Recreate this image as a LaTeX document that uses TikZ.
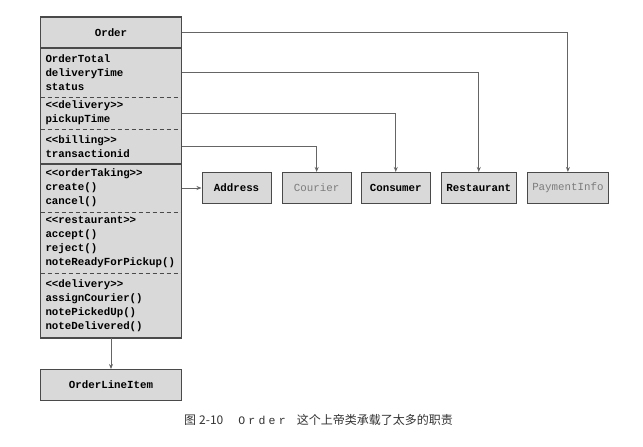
\documentclass[tikz,border=0pt]{standalone}
\usepackage{fontspec}
\newfontfamily\umlfont{Liberation Mono}
\newfontfamily\cjk{Noto Sans CJK SC}
\usetikzlibrary{arrows.meta,positioning}
\definecolor{umlFill}{HTML}{D9D9D9}
\definecolor{umlLine}{HTML}{4A4A4A}
\definecolor{umlFaded}{HTML}{7C7C7C}
\newcommand{\stereo}[1]{<{}<#1>{}>}

\begin{document}
\begin{tikzpicture}[x=1pt, y=-1pt,
    every node/.style={font=\umlfont\bfseries\fontsize{10.8}{14}\selectfont},
    header/.style={fill=umlFill, minimum width=141pt, minimum height=31pt,
                   inner sep=0pt, outer sep=0pt},
    section/.style={fill=umlFill, text width=131pt, inner xsep=5pt,
                    inner ysep=2pt, align=left, outer sep=0pt},
    refbox/.style={draw=umlLine, line width=1.1pt, fill=umlFill,
                   minimum width=69pt, minimum height=31pt, inner xsep=5pt},
    faded/.style={text=umlFaded, font=\umlfont\fontsize{10.8}{14}\selectfont},
    border/.style={draw=umlLine, line width=1.1pt},
    divider/.style={draw=umlLine, line width=0.9pt, dash pattern=on 4pt off 3pt},
    link/.style={draw=umlLine!85, line width=0.9pt,
                 -{Stealth[length=5pt, width=4pt]}},
  ]
  \useasboundingbox (0,0) rectangle (643,447);

  % The god class
  \node[header, anchor=north west] (order) at (40.5,17) {Order};
  \node[section, minimum height=49pt, below=0pt of order] (orderAttrs)
    {OrderTotal\\deliveryTime\\status};
  \node[section, minimum height=32pt, below=0pt of orderAttrs] (orderDelivery)
    {\stereo{delivery}\\pickupTime};
  \node[section, minimum height=35pt, below=0pt of orderDelivery] (orderBilling)
    {\stereo{billing}\\transactionid};
  \node[section, minimum height=48pt, below=0pt of orderBilling] (orderTaking)
    {\stereo{orderTaking}\\create()\\cancel()};
  \node[section, minimum height=61pt, below=0pt of orderTaking] (orderRestaurant)
    {\stereo{restaurant}\\accept()\\reject()\\noteReadyForPickup()};
  \node[section, minimum height=65pt, below=0pt of orderRestaurant] (orderDeliveryOps)
    {\stereo{delivery}\\assignCourier()\\notePickedUp()\\noteDelivered()};

  % Outline and compartment lines
  \draw[border] (order.north west) rectangle (orderDeliveryOps.south east);
  \draw[border] (order.south west) -- (order.south east);
  \draw[border] (orderBilling.south west) -- (orderBilling.south east);
  \draw[divider] (orderAttrs.south west) -- (orderAttrs.south east);
  \draw[divider] (orderDelivery.south west) -- (orderDelivery.south east);
  \draw[divider] (orderTaking.south west) -- (orderTaking.south east);
  \draw[divider] (orderRestaurant.south west) -- (orderRestaurant.south east);

  % Referenced classes
  \node[refbox, anchor=west] (address) at (201.5,188) {Address};
  \node[refbox, faded, right=10pt of address] (courier) {Courier};
  \node[refbox, right=9pt of courier] (consumer) {Consumer};
  \node[refbox, right=10pt of consumer] (restaurant) {Restaurant};
  \node[refbox, faded, right=10pt of restaurant] (payment) {PaymentInfo};
  \node[refbox, minimum width=141pt, below=31pt of orderDeliveryOps] (lineItem)
    {OrderLineItem};

  % Associations
  \draw[link] (order.east) -| (payment.north);
  \draw[link] (orderAttrs.east) -| (restaurant.north);
  \draw[link] (orderDelivery.east) -| (consumer.north);
  \draw[link] (orderBilling.east) -| (courier.north);
  \draw[link] (orderTaking.east) -- (address.west);
  \draw[link] (orderDeliveryOps.south) -- (lineItem.north);

  % Caption
  \node[font=\cjk\fontsize{12}{14}\selectfont, text=black!80] (caption) at (318.5,420)
    {图\hspace{3pt}2-10\hspace{15pt}{\umlfont\fontsize{11.5}{14}\selectfont
     \addfontfeature{LetterSpace=28}Order}\hspace{11pt}这个上帝类承载了太多的职责};
\end{tikzpicture}
\end{document}
